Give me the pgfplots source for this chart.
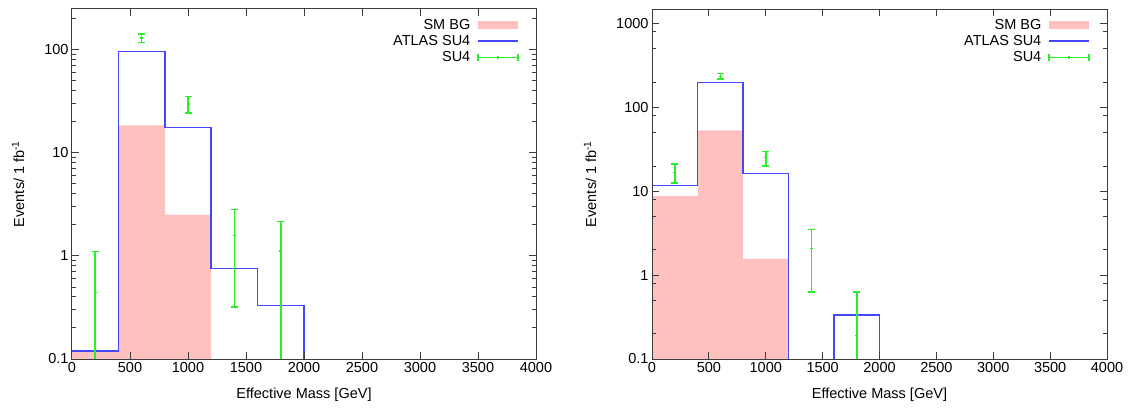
\documentclass[border=0pt]{standalone}
\usepackage{fontspec}
\setmainfont{Liberation Sans}
\usepackage{pgfplots}
\pgfplotsset{compat=1.18}
\definecolor{smbg}{RGB}{255,192,192}
\definecolor{atlas}{RGB}{70,70,255}
\definecolor{sugreen}{RGB}{40,240,40}
\definecolor{axgray}{RGB}{60,60,60}

\begin{document}
\begin{tikzpicture}[font=\fontsize{14.5}{17}\selectfont]
\useasboundingbox (0,0) rectangle (1135pt,415pt);

% ---------------- left panel ----------------
\begin{axis}[
  at={(72pt,56pt)}, anchor=south west,
  scale only axis, width=464pt, height=350pt,
  ymode=log, axis on top,
  xmin=0, xmax=4000, ymin=0.1, ymax=250,
  xtick={0,500,...,4000},
  xticklabels={0,500,1000,1500,2000,2500,3000,3500,4000},
  ytick={0.1,1,10,100}, yticklabels={0.1,1,10,100},
  minor ytick={0.2,0.3,0.4,0.5,0.6,0.7,0.8,0.9,2,3,4,5,6,7,8,9,20,30,40,50,60,70,80,90,200},
  tick align=inside, major tick length=7pt, minor tick length=4pt,
  axis line style={axgray, line width=1pt},
  tick style={axgray, line width=1pt},
  minor tick style={axgray, line width=1pt},
  xlabel={Effective Mass [GeV]},
  ylabel={Events/ 1 fb\textsuperscript{-1}},
  xlabel style={at={(axis description cs:0.5,-0.1029)}, anchor=center},
  ylabel style={at={(axis description cs:-0.1164,0.5)}, anchor=center},
  legend cell align=right, legend plot pos=right,
  legend style={at={(axis description cs:1,1)}, anchor=north east,
    xshift=-14pt, yshift=-6pt, draw=none, fill=none, row sep=0.5pt,
    /tikz/every odd column/.append style={column sep=5pt}},
]
\addplot[fill=smbg, draw=none,
  legend image code/.code={\fill[smbg] (0pt,-4.2pt) rectangle (40pt,4.2pt);}]
  coordinates {(0,0.1) (0,0.12) (400,0.12) (400,18.5) (800,18.5) (800,2.52) (1200,2.52) (1200,0.1)};
\addlegendentry{SM BG}
\addplot[atlas, line width=1.5pt,
  legend image code/.code={\draw[color=atlas,line width=1.5pt] (0pt,0pt) -- (40pt,0pt);}]
  coordinates {(0,0.12) (400,0.12) (400,97) (800,97) (800,17.7) (1200,17.7) (1200,0.755) (1600,0.755) (1600,0.331) (2000,0.331) (2000,0.01)};
\addlegendentry{ATLAS SU4}
\addplot[sugreen, line width=1.5pt, only marks, mark=-, mark size=1.5pt,
  legend image code/.code={\draw[color=sugreen,line width=1.5pt] (0pt,0pt) -- (40pt,0pt) (0pt,-3.5pt) -- (0pt,3.5pt) (40pt,-3.5pt) -- (40pt,3.5pt) (20pt,-1.3pt) -- (20pt,1.3pt);},
  error bars/.cd, y dir=both, y explicit,
  error bar style={sugreen, line width=1.5pt},
  error mark options={sugreen, rotate=90, mark size=3.5pt, line width=1.5pt}]
  coordinates {
   (200,0.443)  += (0,0.657) -= (0,0.442)
   (600,130.6)  += (0,12.4)  -= (0,12.0)
   (1000,30)    += (0,5.5)   -= (0,5.5)
   (1400,1.58)  += (0,1.24)  -= (0,1.26)
   (1800,1.12)  += (0,1.04)  -= (0,1.119)
  };
\addlegendentry{SU4}
\end{axis}

% ---------------- right panel ----------------
\begin{axis}[
  at={(652pt,56pt)}, anchor=south west,
  scale only axis, width=455pt, height=350pt,
  ymode=log, axis on top,
  xmin=0, xmax=4000, ymin=0.1, ymax=1500,
  xtick={0,500,...,4000},
  xticklabels={0,500,1000,1500,2000,2500,3000,3500,4000},
  ytick={0.1,1,10,100,1000}, yticklabels={0.1,1,10,100,1000},
  minor ytick={0.2,0.5,0.8,2,5,8,20,50,80,200,500,800},
  tick align=inside, major tick length=7pt, minor tick length=4pt,
  axis line style={axgray, line width=1pt},
  tick style={axgray, line width=1pt},
  minor tick style={axgray, line width=1pt},
  xlabel={Effective Mass [GeV]},
  ylabel={Events/ 1 fb\textsuperscript{-1}},
  xlabel style={at={(axis description cs:0.5,-0.1029)}, anchor=center},
  ylabel style={at={(axis description cs:-0.1363,0.5)}, anchor=center},
  legend cell align=right, legend plot pos=right,
  legend style={at={(axis description cs:1,1)}, anchor=north east,
    xshift=-14pt, yshift=-6pt, draw=none, fill=none, row sep=0.5pt,
    /tikz/every odd column/.append style={column sep=5pt}},
]
\addplot[fill=smbg, draw=none,
  legend image code/.code={\fill[smbg] (0pt,-4.2pt) rectangle (40pt,4.2pt);}]
  coordinates {(0,0.1) (0,8.75) (400,8.75) (400,53.5) (800,53.5) (800,1.57) (1200,1.57) (1200,0.1)};
\addlegendentry{SM BG}
\addplot[atlas, line width=1.5pt,
  legend image code/.code={\draw[color=atlas,line width=1.5pt] (0pt,0pt) -- (40pt,0pt);}]
  coordinates {(0,11.7) (400,11.7) (400,198) (800,198) (800,16.3) (1200,16.3) (1200,0.01) (1600,0.01) (1600,0.334) (2000,0.334) (2000,0.01)};
\addlegendentry{ATLAS SU4}
\addplot[sugreen, line width=1.5pt, only marks, mark=-, mark size=1.5pt,
  legend image code/.code={\draw[color=sugreen,line width=1.5pt] (0pt,0pt) -- (40pt,0pt) (0pt,-3.5pt) -- (0pt,3.5pt) (40pt,-3.5pt) -- (40pt,3.5pt) (20pt,-1.3pt) -- (20pt,1.3pt);},
  error bars/.cd, y dir=both, y explicit,
  error bar style={sugreen, line width=1.5pt},
  error mark options={sugreen, rotate=90, mark size=3.5pt, line width=1.5pt}]
  coordinates {
   (200,16.8)  += (0,4.3)  -= (0,4.2)
   (600,235)   += (0,19)   -= (0,16)
   (1000,25.3) += (0,4.8)  -= (0,5.2)
   (1400,2.08) += (0,1.43) -= (0,1.45)
   (1800,0.19) += (0,0.44) -= (0,0.189)
  };
\addlegendentry{SU4}
\end{axis}
\end{tikzpicture}
\end{document}
